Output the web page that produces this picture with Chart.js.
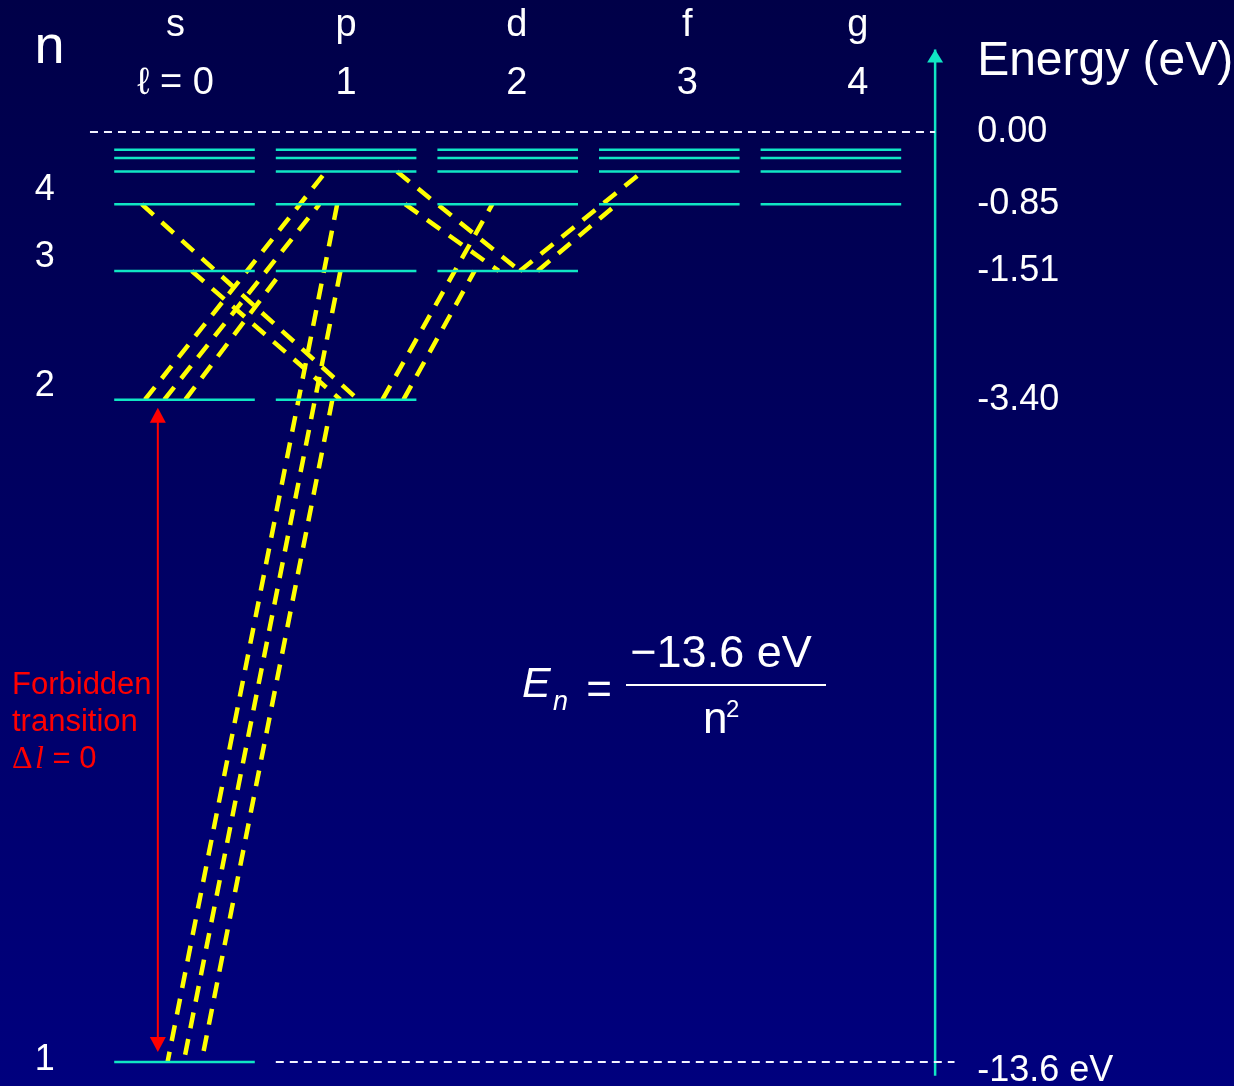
<!DOCTYPE html>
<html>
<head>
<meta charset="utf-8">
<script src="https://cdn.jsdelivr.net/npm/chart.js@4/dist/chart.umd.min.js"></script>
<style>
  html, body { margin: 0; padding: 0; background: #000060; }
  canvas { display: block; }
</style>
</head>
<body>
<canvas id="levels" width="1234" height="1086"></canvas>
<script>
// orbital columns (l = 0..4)
const orbitals = ["s", "p", "d", "f", "g"];
const lLabels = ["\u2113 = 0", "1", "2", "3", "4"];
const lowestShell = [1, 2, 3, 4, 4];

// hydrogen shells, E = -13.6 / n^2
const shells = [1, 2, 3, 4, 5, 6, 7];
const shellEnergy = [-13.6, -3.40, -1.51, -0.85, -0.54, -0.38, -0.28];

// right hand energy labels and left hand n labels
const energyTicks = [0, -0.85, -1.51, -3.40, -13.6];
const energyTickLabels = ["0.00", "-0.85", "-1.51", "-3.40", "-13.6 eV"];
const shellTicks = [4, 3, 2, 1];

// allowed transitions (yellow dashed), x given in l units
const transFrom = ["2s", "2s", "2s", "4s", "3s", "2p", "3p", "4p", "5p", "4p", "3d", "3d", "2p", "2p"];
const transTo = ["5p", "4p", "3p", "2p", "2p", "1s", "1s", "1s", "3d", "3d", "5f", "4f", "4d", "3d"];
const transFromX = [-0.25, -0.13, 0.0, -0.27, 0.04, 0.91, 0.96, 0.94, 1.31, 1.36, 2.07, 2.18, 1.22, 1.35];
const transToX = [0.87, 0.83, 0.60, 1.07, 0.96, 0.10, -0.01, -0.11, 2.07, 1.94, 2.83, 2.67, 1.90, 1.79];

// forbidden 2s -> 1s
const forbiddenFrom = "2s";
const forbiddenTo = "1s";
const forbiddenX = -0.17;

// energy axis
const axisX = 4.64;
const axisRange = [-13.83, 1.25];

// the drawing is not to scale: energy -> fraction of height
const levelAnchors = [
  [2.0, 0], [0, 0.1215], [-0.28, 0.138], [-0.38, 0.1455], [-0.54, 0.158],
  [-0.85, 0.188], [-1.51, 0.2495], [-3.40, 0.368], [-13.6, 0.978], [-14.0, 1.0],
];

const CYAN = "#10e6c4";
const YELLOW = "#ffff00";
const FONT = "'Liberation Sans', Arial, sans-serif";

const energyOf = (label) => shellEnergy[parseInt(label, 10) - 1];

function warp(v) {
  const a = levelAnchors;
  let i = 1;
  while (i < a.length - 1 && v < a[i][0]) i++;
  const [e0, f0] = a[i - 1], [e1, f1] = a[i];
  return f0 + ((v - e0) / (e1 - e0)) * (f1 - f0);
}
function unwarp(f) {
  const a = levelAnchors;
  let i = 1;
  while (i < a.length - 1 && f > a[i][1]) i++;
  const [e0, f0] = a[i - 1], [e1, f1] = a[i];
  return e0 + ((f - f0) / (f1 - f0)) * (e1 - e0);
}

class LevelScale extends Chart.LinearScale {
  getPixelForValue(value) {
    return this.top + warp(value) * (this.bottom - this.top);
  }
  getValueForPixel(pixel) {
    return unwarp((pixel - this.top) / (this.bottom - this.top));
  }
}
LevelScale.id = "level";
LevelScale.defaults = Chart.LinearScale.defaults;
Chart.register(LevelScale);

const datasets = [];

// level lines
orbitals.forEach((o, l) => {
  for (let n = lowestShell[l]; n <= shells.length; n++) {
    const e = shellEnergy[n - 1];
    datasets.push({
      data: [{ x: l - 0.44, y: e }, { x: l + 0.43, y: e }],
      borderColor: CYAN,
      borderWidth: 2.5,
    });
  }
});

// reference lines at 0 and -13.6
datasets.push({
  data: [{ x: -0.59, y: 0 }, { x: axisX, y: 0 }],
  borderColor: "#f2f2ff",
  borderWidth: 2,
  borderDash: [8, 6],
});
datasets.push({
  data: [{ x: 0.56, y: shellEnergy[0] }, { x: 4.76, y: shellEnergy[0] }],
  borderColor: "#f2f2ff",
  borderWidth: 2,
  borderDash: [8, 6],
});

// energy axis
datasets.push({
  data: [{ x: axisX, y: axisRange[0] }, { x: axisX, y: axisRange[1] }],
  borderColor: CYAN,
  borderWidth: 2.5,
  arrowTop: true,
});

// transitions
transFrom.forEach((f, i) => {
  datasets.push({
    data: [
      { x: transFromX[i], y: energyOf(f) },
      { x: transToX[i], y: energyOf(transTo[i]) },
    ],
    borderColor: YELLOW,
    borderWidth: 4.5,
    borderDash: [16, 11],
  });
});

function head(ctx, x, y, dir, len, half, color) {
  ctx.fillStyle = color;
  ctx.beginPath();
  ctx.moveTo(x, y);
  ctx.lineTo(x - half, y + dir * len);
  ctx.lineTo(x + half, y + dir * len);
  ctx.closePath();
  ctx.fill();
}

const background = {
  id: "background",
  beforeDraw(chart) {
    const { ctx, width, height } = chart;
    const g = ctx.createLinearGradient(0, 0, 0, height);
    g.addColorStop(0, "#000048");
    g.addColorStop(1, "#00007e");
    ctx.save();
    ctx.fillStyle = g;
    ctx.fillRect(0, 0, width, height);
    ctx.restore();
  },
};

const annotations = {
  id: "annotations",
  afterDraw(chart) {
    const { ctx } = chart;
    const x = chart.scales.x, y = chart.scales.y, hx = chart.scales.header;
    const top = chart.chartArea.top;
    ctx.save();

    // axis arrow head
    chart.data.datasets.forEach((ds, i) => {
      if (!ds.arrowTop) return;
      const pts = chart.getDatasetMeta(i).data;
      const p = pts[pts.length - 1];
      head(ctx, p.x, p.y, 1, 13, 8, CYAN);
    });

    // forbidden transition arrow
    const fx = x.getPixelForValue(forbiddenX);
    const y2 = y.getPixelForValue(energyOf(forbiddenFrom)) + 8;
    const y1 = y.getPixelForValue(energyOf(forbiddenTo)) - 10;
    ctx.strokeStyle = "#ff0000";
    ctx.lineWidth = 2;
    ctx.beginPath();
    ctx.moveTo(fx, y2 + 10);
    ctx.lineTo(fx, y1 - 10);
    ctx.stroke();
    head(ctx, fx, y2, 1, 15, 8, "#ff0000");
    head(ctx, fx, y1, -1, 15, 8, "#ff0000");

    ctx.fillStyle = "#ffffff";
    ctx.textAlign = "center";
    ctx.textBaseline = "alphabetic";

    // header
    ctx.font = "54px " + FONT;
    ctx.fillText("n", x.getPixelForValue(-0.84), top + 63);
    ctx.font = "38px " + FONT;
    orbitals.forEach((o, l) => {
      ctx.fillText(o, hx.getPixelForValue(l), top + 36);
      ctx.fillText(lLabels[l], hx.getPixelForValue(l), top + 94);
    });

    // n labels
    ctx.font = "36px " + FONT;
    ctx.textBaseline = "middle";
    shellTicks.forEach((n) => {
      const dy = n === 1 ? -2 : -14;
      ctx.fillText(String(n), x.getPixelForValue(-0.87), y.getPixelForValue(energyOf(n)) + dy);
    });

    // energy labels
    ctx.textAlign = "left";
    ctx.font = "36px " + FONT;
    energyTicks.forEach((e, i) => {
      const dy = i === energyTicks.length - 1 ? 9 : 0;
      ctx.fillText(energyTickLabels[i], x.getPixelForValue(4.9), y.getPixelForValue(e) + dy);
    });
    ctx.textBaseline = "alphabetic";
    ctx.font = "48px " + FONT;
    ctx.fillText("Energy (eV)", x.getPixelForValue(4.9), top + 75);

    // formula
    ctx.font = "italic 43px " + FONT;
    ctx.fillText("E", 522, top + 697);
    ctx.font = "italic 27px " + FONT;
    ctx.fillText("n", 553, top + 710);
    ctx.font = "44px " + FONT;
    ctx.textAlign = "center";
    ctx.fillText("=", 599, top + 704);
    ctx.font = "45px " + FONT;
    ctx.fillText("\u221213.6 eV", 721, top + 667);
    ctx.textAlign = "left";
    ctx.font = "44px " + FONT;
    ctx.fillText("n", 703, top + 733);
    ctx.font = "24px " + FONT;
    ctx.fillText("2", 726, top + 717);
    ctx.strokeStyle = "#ffffff";
    ctx.lineWidth = 2;
    ctx.beginPath();
    ctx.moveTo(626, top + 685);
    ctx.lineTo(826, top + 685);
    ctx.stroke();

    // forbidden note
    ctx.fillStyle = "#ff0000";
    ctx.font = "31px " + FONT;
    ctx.fillText("Forbidden", 12, top + 694);
    ctx.fillText("transition", 12, top + 731);
    ctx.font = "32px 'Liberation Serif', serif";
    ctx.fillText("\u0394", 12, top + 768);
    ctx.font = "italic 32px 'Liberation Serif', serif";
    ctx.fillText("l", 35, top + 768);
    ctx.font = "31px " + FONT;
    ctx.fillText(" = 0", 44, top + 768);

    ctx.restore();
  },
};

new Chart(document.getElementById("levels").getContext("2d"), {
  type: "scatter",
  data: { datasets },
  options: {
    responsive: false,
    devicePixelRatio: 1,
    animation: false,
    events: [],
    layout: { padding: 0 },
    elements: {
      point: { radius: 0 },
      line: { tension: 0, borderCapStyle: "butt" },
    },
    datasets: { scatter: { showLine: true, clip: false } },
    plugins: { legend: { display: false }, tooltip: { enabled: false } },
    scales: {
      x: { type: "linear", display: false, min: -1.1467, max: 6.4895 },
      header: { type: "linear", axis: "x", display: false, min: -1.0287, max: 6.2045 },
      y: { type: "level", display: false, min: -14.0, max: 2.0 },
    },
  },
  plugins: [background, annotations],
});
</script>
</body>
</html>
